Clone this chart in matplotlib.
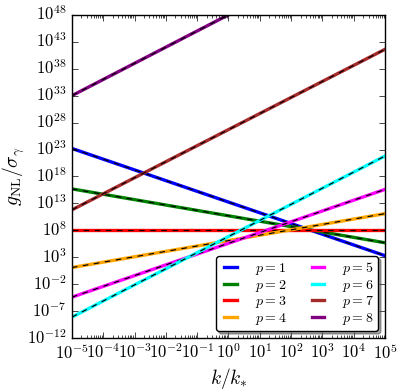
import matplotlib

matplotlib.use("Agg")
import matplotlib.pyplot as plt
import numpy as np

# end points of each power law (log10 values)
k_ends = [1e-5, 1e5]
p_values = [1, 2, 3, 4, 5, 6, 7, 8]
log_g_left = [23.2, 15.7, 8.0, 1.1, -4.4, -8.1, 11.8, 33.0]
log_g_right = [3.3, 5.7, 8.0, 11.1, 15.6, 21.8, 41.6, 63.0]
colors = ["b", "g", "r", "orange", "magenta", "cyan", "brown", "purple"]

yticks = [1e-12, 1e-7, 1e-2, 1e3, 1e8, 1e13, 1e18, 1e23, 1e28, 1e33, 1e38, 1e43, 1e48]

plt.style.use("classic")
plt.rcParams["mathtext.fontset"] = "cm"
plt.rcParams["font.family"] = "serif"
plt.rcParams["font.serif"] = ["DejaVu Serif"]

fig = plt.figure(figsize=(4.04, 3.90), dpi=100, facecolor="white")
ax = fig.add_axes([0.178, 0.133, 0.775, 0.829])

for i in range(len(p_values)):
    g = [10 ** log_g_left[i], 10 ** log_g_right[i]]
    ax.loglog(k_ends, g, color=colors[i], lw=2.4, label=r"$p = %d$" % p_values[i])
    ax.loglog(k_ends, g, color="k", lw=0.85, ls="--", dashes=(4, 4))

ax.set_xlim(1e-5, 1e5)
ax.set_ylim(1e-12, 1e48)
ax.set_yticks(yticks)
ax.yaxis.set_minor_locator(matplotlib.ticker.NullLocator())
ax.set_xticks([10.0 ** e for e in range(-5, 6)])
fmt = matplotlib.ticker.FuncFormatter(lambda v, pos: r"$10^{%d}$" % round(np.log10(v)))
ax.xaxis.set_major_formatter(fmt)
ax.yaxis.set_major_formatter(fmt)
ax.tick_params(labelsize=12)

ax.set_xlabel(r"$k/k_{*}$", fontsize=14, labelpad=2)
ax.set_ylabel(r"$g_{\rm NL}/\sigma_\gamma$", fontsize=14, labelpad=0)

handles, labels = ax.get_legend_handles_labels()
ax.legend(
    handles,
    labels,
    loc="lower right",
    ncol=2,
    fontsize=10,
    fancybox=True,
    shadow=True,
    handlelength=1.5,
    handletextpad=1.0,
    borderaxespad=0.5,
    borderpad=0.3,
    columnspacing=1.5,
    labelspacing=0.05,
)

fig.savefig("out.png", dpi=100, facecolor="white")
